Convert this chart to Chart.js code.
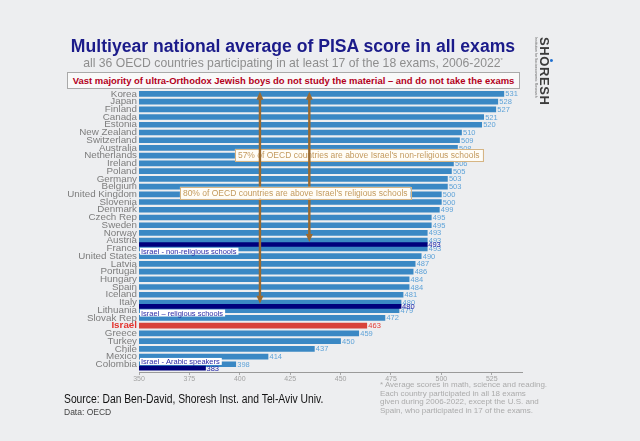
<!DOCTYPE html>
<html>
<head>
<meta charset="utf-8">
<script src="https://cdn.jsdelivr.net/npm/chart.js@4.4.1/dist/chart.umd.min.js"></script>
<style>
  html, body { margin: 0; padding: 0; }
  body { width: 640px; height: 441px; background: #edeef0; position: relative; overflow: hidden;
         font-family: "Liberation Sans", Arial, sans-serif; }
  #chartBox { position: absolute; left: 0; top: 0; width: 640px; height: 441px; }
  .abs { position: absolute; white-space: nowrap; }
  #title { left: 293px; top: 36px; transform: translateX(-50%); font-weight: bold; font-size: 17.6px; color: #1b1b8a; }
  #subtitle { left: 293px; top: 56px; transform: translateX(-50%); font-size: 12.2px; color: #8e8e8e; }
  #subtitle sup { font-size: 6px; }
  #note { left: 67px; top: 72px; width: 451px; height: 15px; line-height: 15px; text-align: center;
          background: #f9f9f9; border: 1px solid #a9a9a9; font-weight: bold; font-size: 9.45px; color: #b3001b; }
  #logo { left: 550px; top: 37px; transform: rotate(90deg); transform-origin: left top; color: #3b3b3b; }
  #logo .big { font-weight: bold; font-size: 13px; letter-spacing: 0.6px; line-height: 12px; position: relative; }
  #logo .dot { position: absolute; left: 22px; top: -3px; width: 3px; height: 3px; border-radius: 50%; background: #1f6fd0; }
  #logo .small { font-size: 3.5px; line-height: 4px; color: #666; }
  #source { left: 64px; top: 392px; font-size: 12px; color: #111; transform: scaleX(0.86); transform-origin: left top; }
  #data { left: 64px; top: 407px; font-size: 8.5px; color: #444; }
  #foot { left: 380px; top: 381px; font-size: 8px; line-height: 8.6px; color: #ababab; }
</style>
</head>
<body>
<div id="chartBox"><canvas id="pisa"></canvas></div>
<div class="abs" id="title">Multiyear national average of PISA score in all exams</div>
<div class="abs" id="subtitle">all 36 OECD countries participating in at least 17 of the 18 exams, 2006-2022<sup>*</sup></div>
<div class="abs" id="note">Vast majority of ultra-Orthodox Jewish boys do not study the material – and do not take the exams</div>
<div class="abs" id="logo"><div class="big">SHORESH<span class="dot"></span></div><div class="small">Institution for Socioeconomic Research</div></div>
<div class="abs" id="source">Source: Dan Ben-David, Shoresh Inst. and Tel-Aviv Univ.</div>
<div class="abs" id="data">Data: OECD</div>
<div class="abs" id="foot">* Average scores in math, science and reading.<br>Each country participated in all 18 exams<br>given during 2006-2022, except the U.S. and<br>Spain, who participated in 17 of the exams.</div>
<script>
// country rows, top to bottom
const countries = ['Korea', 'Japan', 'Finland', 'Canada', 'Estonia', 'New Zealand', 'Switzerland',
  'Australia', 'Netherlands', 'Ireland', 'Poland', 'Germany', 'Belgium', 'United Kingdom', 'Slovenia',
  'Denmark', 'Czech Rep', 'Sweden', 'Norway', 'Austria', 'France', 'United States', 'Latvia', 'Portugal',
  'Hungary', 'Spain', 'Iceland', 'Italy', 'Lithuania', 'Slovak Rep', 'Israel', 'Greece', 'Turkey',
  'Chile', 'Mexico', 'Colombia'];
const scores = [531, 528, 527, 521, 520, 510, 509, 508, 507, 506, 505, 503, 503, 500, 500,
  499, 495, 495, 493, 493, 493, 490, 487, 486, 484, 484, 481, 480, 479, 472, 463, 459, 450,
  437, 414, 398];

// Israeli sub-groups, slotted in just below the named country
const groups = ['Israel - non-religious schools', 'Israel – religious schools', 'Israel - Arabic speakers'];
const groupScores = [493, 480, 383];
const groupAfter = ['Austria', 'Italy', 'Colombia'];

const xTicks = [350, 375, 400, 425, 450, 475, 500, 525];

const callouts = [
  '57% of OECD countries are above Israel\'s non-religious schools',
  '80% of OECD countries are above Israel\'s religious schools'
];

const FONT = '"Liberation Sans", Arial, sans-serif';
const BLUE = '#3a88c4';
const NAVY = '#00007c';
const RED = '#d8433b';
const BROWN = '#9b6a2f';

const countryRows = countries.map((c, i) => ({ x: scores[i], y: i }));
const groupRows = groups.map((g, i) => ({ x: groupScores[i], y: countries.indexOf(groupAfter[i]) + 0.5 }));

const isIsraelTick = c => !!(c && c.tick && countries[c.tick.value] === 'Israel');

// value labels, sub-group tags, arrows and callout boxes
const overlayPlugin = {
  id: 'overlay',
  afterDatasetsDraw(chart) {
    const { ctx, chartArea, scales: { x, y } } = chart;
    const cMeta = chart.getDatasetMeta(1);
    const gMeta = chart.getDatasetMeta(0);
    ctx.save();
    ctx.textBaseline = 'middle';
    ctx.font = '7.5px ' + FONT;

    cMeta.data.forEach((bar, i) => {
      ctx.fillStyle = countries[i] === 'Israel' ? '#e33b35' : '#5fa3d8';
      ctx.fillText(scores[i], bar.x + 1.5, bar.y + 0.5);
    });
    gMeta.data.forEach((bar, i) => {
      ctx.fillStyle = '#2626a8';
      ctx.fillText(groupScores[i], bar.x + 1, bar.y + 0.5);
    });

    // sub-group name tags at the left edge of the plot
    ctx.font = '7.5px ' + FONT;
    gMeta.data.forEach((bar, i) => {
      const shift = i === groups.length - 1 ? -6.7 : 6.7;
      const w = ctx.measureText(groups[i]).width + 3;
      const ty = bar.y + shift;
      ctx.fillStyle = '#ffffff';
      ctx.fillRect(chartArea.left + 1, ty - 3.5, w, 7);
      ctx.fillStyle = '#2a2aa6';
      ctx.fillText(groups[i], chartArea.left + 2, ty + 0.5);
    });

    const drawBox = (text, cx, cy) => {
      ctx.font = '8.5px ' + FONT;
      const w = ctx.measureText(text).width + 6;
      ctx.fillStyle = '#fffdf7';
      ctx.strokeStyle = '#d6b584';
      ctx.lineWidth = 1;
      ctx.fillRect(cx - w / 2, cy - 6, w, 12);
      ctx.strokeRect(Math.round(cx - w / 2) + 0.5, Math.round(cy - 6) + 0.5, Math.round(w), 12);
      ctx.fillStyle = '#c39a5e';
      ctx.textAlign = 'center';
      ctx.fillText(text, cx, cy + 0.5);
      ctx.textAlign = 'left';
    };

    const drawArrow = (ax, y1, y2) => {
      const head = 8, half = 3.5;
      ctx.strokeStyle = BROWN;
      ctx.fillStyle = BROWN;
      ctx.lineWidth = 2.4;
      ctx.beginPath();
      ctx.moveTo(ax, y1 + head - 1);
      ctx.lineTo(ax, y2 - head + 1);
      ctx.stroke();
      ctx.beginPath();
      ctx.moveTo(ax, y1); ctx.lineTo(ax - half, y1 + head); ctx.lineTo(ax + half, y1 + head);
      ctx.closePath(); ctx.fill();
      ctx.beginPath();
      ctx.moveTo(ax, y2); ctx.lineTo(ax - half, y2 - head); ctx.lineTo(ax + half, y2 - head);
      ctx.closePath(); ctx.fill();
    };

    const top = y.getPixelForValue(0) - 2;
    drawBox(callouts[0], x.getPixelForValue(459), y.getPixelForValue(7.9));
    drawArrow(x.getPixelForValue(434.5), top, gMeta.data[0].y - 2.5);
    drawArrow(x.getPixelForValue(410), top, gMeta.data[1].y - 2.5);
    drawBox(callouts[1], x.getPixelForValue(427.5), y.getPixelForValue(12.8));
    ctx.restore();
  }
};

new Chart(document.getElementById('pisa'), {
  type: 'bar',
  data: {
    datasets: [
      {
        label: 'Israel sub-groups',
        data: groupRows,
        backgroundColor: NAVY,
        barThickness: 4,
        grouped: false,
        order: 0
      },
      {
        label: 'PISA score',
        data: countryRows,
        backgroundColor: countries.map(c => c === 'Israel' ? RED : BLUE),
        barThickness: 5,
        grouped: false,
        order: 1
      }
    ]
  },
  plugins: [overlayPlugin],
  options: {
    indexAxis: 'y',
    responsive: true,
    maintainAspectRatio: false,
    animation: false,
    layout: { padding: { left: 0, right: 118, top: 90, bottom: 0 } },
    scales: {
      x: {
        type: 'linear',
        min: 350,
        max: 540,
        afterBuildTicks: s => { s.ticks = xTicks.map(v => ({ value: v })); },
        afterFit: s => { s.height = 69; },
        grid: { drawOnChartArea: false, drawTicks: true, tickLength: 3, color: '#a8a8a8' },
        border: { display: true, color: '#9a9a9a', width: 1 },
        ticks: { color: '#a3a3a3', padding: 0, font: { family: FONT, size: 7 } }
      },
      y: {
        type: 'linear',
        reverse: true,
        offset: false,
        min: -0.5,
        max: 36,
        afterBuildTicks: s => { s.ticks = countries.map((c, i) => ({ value: i })); },
        afterFit: s => { s.width = 139; },
        grid: { display: false, drawTicks: false, offset: false },
        border: { display: false },
        ticks: {
          autoSkip: false,
          padding: 2,
          callback: v => countries[v],
          color: c => isIsraelTick(c) ? '#e3342f' : '#7d7d7d',
          font: c => ({ family: FONT, size: 9.8, weight: isIsraelTick(c) ? 'bold' : 'normal' })
        }
      }
    },
    plugins: {
      legend: { display: false },
      tooltip: { enabled: false }
    }
  }
});
</script>
</body>
</html>
